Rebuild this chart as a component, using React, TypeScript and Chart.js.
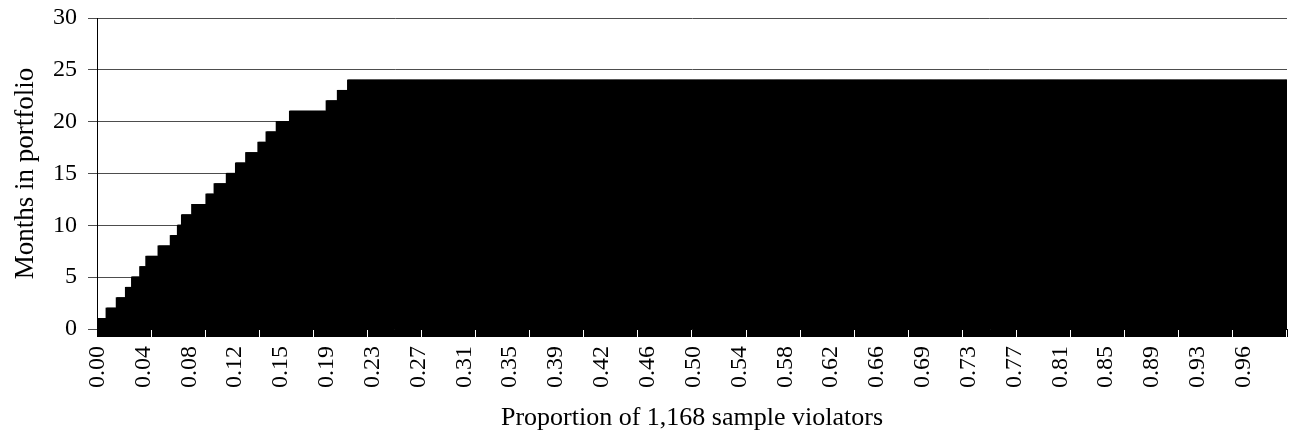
import React, { useEffect, useRef } from "react";
import { Chart, registerables } from "chart.js";

Chart.register(...registerables);

// Sample size and step (run-length) data
const sampleSize = 1168;
// months-in-portfolio value of each step
const stepValues = [1, 2, 3, 4, 5, 6, 7, 8, 9, 10, 11, 12, 13, 14, 15, 16, 17, 18, 19, 20, 21, 22, 23, 24];
// number of violators (bars) in each step
const stepCounts = [9, 10, 9, 6, 8, 6, 12, 12, 7, 4, 10, 14, 8, 12, 9, 10, 12, 8, 10, 13, 36, 11, 10, 922];

// Tick labels shown on the x axis (every 45th violator)
const tickEvery = 45;
const tickLabels = [
  "0.00", "0.04", "0.08", "0.12", "0.15", "0.19", "0.23", "0.27", "0.31", "0.35",
  "0.39", "0.42", "0.46", "0.50", "0.54", "0.58", "0.62", "0.66", "0.69", "0.73",
  "0.77", "0.81", "0.85", "0.89", "0.93", "0.96",
];
const yTicks = [0, 5, 10, 15, 20, 25, 30];

const months: number[] = [];
stepValues.forEach((v, k) => {
  for (let j = 0; j < stepCounts[k]; j++) months.push(v);
});
const categories: string[] = [];
for (let i = 0; i < sampleSize; i++) categories.push((i / (sampleSize - 1)).toFixed(2));

const FONT = "'Liberation Serif', 'Times New Roman', serif";

export default function App() {
  const ref = useRef<HTMLCanvasElement | null>(null);
  useEffect(() => {
    if (!ref.current) return;
    const chart = new Chart(ref.current, {
      type: "bar",
      data: {
        labels: categories,
        datasets: [
          {
            data: months,
            backgroundColor: "#000000",
            borderWidth: 0,
            barPercentage: 1,
            categoryPercentage: 1,
            inflateAmount: 0.6,
          } as any,
        ],
      },
      options: {
        animation: false,
        responsive: false,
        maintainAspectRatio: false,
        layout: { padding: { top: 18, right: 2, left: 0, bottom: 0 } },
        plugins: { legend: { display: false }, tooltip: { enabled: false } },
        scales: {
          x: {
            offset: true,
            grid: {
              display: true,
              drawOnChartArea: false,
              drawTicks: true,
              tickLength: 8,
              color: "#000000",
              lineWidth: 1,
            },
            border: { display: true, color: "#000000" },
            ticks: {
              autoSkip: false,
              minRotation: 90,
              maxRotation: 90,
              padding: 9,
              color: "#000000",
              font: { family: FONT, size: 24 },
              callback: (_v: any, index: number) =>
                index % tickEvery === 0 && index / tickEvery < tickLabels.length
                  ? tickLabels[index / tickEvery]
                  : "",
            },
            title: {
              display: true,
              text: "Proportion of 1,168 sample violators",
              color: "#000000",
              font: { family: FONT, size: 26 },
              padding: { top: 1, bottom: 0 },
            },
            afterFit: (scale: any) => {
              scale.height = 105;
              scale.paddingLeft = 0;
              scale.paddingRight = 0;
            },
          },
          y: {
            min: 0,
            max: 30,
            afterBuildTicks: (scale: any) => {
              scale.ticks = yTicks.map((v) => ({ value: v }));
            },
            grid: {
              color: "#4d4d4d",
              lineWidth: 1,
              tickLength: 9,
              drawTicks: true,
            },
            border: { display: true, color: "#000000" },
            ticks: {
              padding: 11,
              color: "#000000",
              font: { family: FONT, size: 24 },
            },
            title: {
              display: true,
              text: "Months in portfolio",
              color: "#000000",
              font: { family: FONT, size: 27 },
              padding: { top: 10, bottom: 0 },
            },
            afterFit: (scale: any) => {
              scale.width = 97;
              scale.paddingTop = 0;
              scale.paddingBottom = 0;
            },
          },
        },
      },
    });
    return () => chart.destroy();
  }, []);
  return (
    <div style={{ position: "absolute", left: 0, top: 0, width: 1289, height: 434, background: "#fff" }}>
      <canvas ref={ref} width={1289} height={434} style={{ width: 1289, height: 434 }} />
    </div>
  );
}
